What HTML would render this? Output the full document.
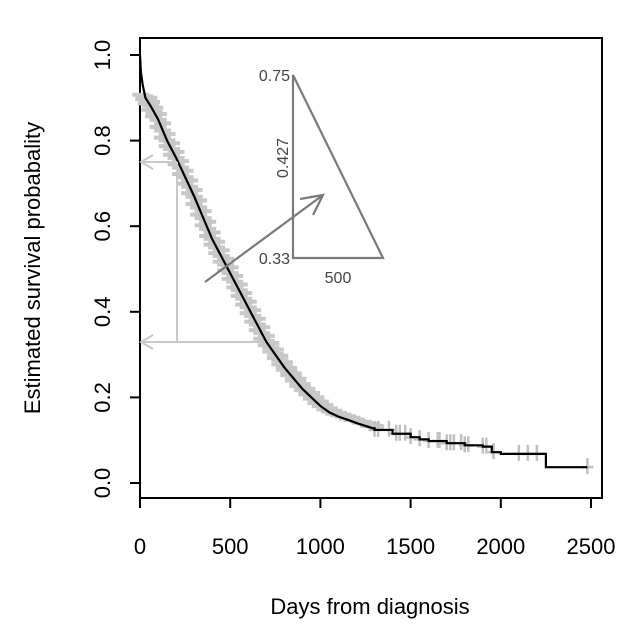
<!DOCTYPE html>
<html><head><meta charset="utf-8"><style>
body{margin:0;background:#fff;}
svg{display:block;font-family:"Liberation Sans",sans-serif;}
</style></head><body>
<svg id="chart" width="640" height="640">
<rect x="140" y="38" width="462" height="460" fill="none" stroke="#000" stroke-width="2"/>
<g id="xaxis"></g>
<g id="yaxis"></g>
<g id="marks"></g>
<path id="curve" fill="none" stroke="#000" stroke-width="2.2"/>
<g stroke="#c8c8c8" stroke-width="2" fill="none">
<line x1="177" y1="162" x2="177" y2="342"/>
<line x1="177" y1="162" x2="141" y2="162"/>
<line x1="265" y1="342" x2="141" y2="342"/>
<polyline points="153,155 141,162 153,169"/>
<polyline points="153,335 141,342 153,349"/>
</g>
<g stroke="#7a7a7a" stroke-width="2.2" fill="none">
<polygon points="293,75 293,258 383,258"/>
<line x1="205" y1="282" x2="323" y2="195"/>
<polyline points="300,199 323,195 313,215"/>
</g>
<g fill="#444" font-size="16">
<text x="290" y="81" text-anchor="end">0.75</text>
<text x="290" y="264" text-anchor="end">0.33</text>
<text x="338" y="283" text-anchor="middle">500</text>
<text transform="translate(288,158) rotate(-90)" text-anchor="middle">0.427</text>
</g>
<text x="370" y="614" text-anchor="middle" font-size="22" fill="#000">Days from diagnosis</text>
<text transform="translate(40,268) rotate(-90)" text-anchor="middle" font-size="22" fill="#000">Estimated survival probabality</text>
</svg>
<script>
const times=[0,5,15,30,60,100,150,200,250,300,350,400,450,500,550,600,650,700,750,800,850,900,950,1000,1050,1100,1150,1200,1290,1300,1400,1500,1550,1600,1700,1800,1900,1950,2000,2250,2480];
const surv=[1.0,0.96,0.93,0.9,0.88,0.85,0.8,0.76,0.715,0.67,0.62,0.57,0.53,0.49,0.45,0.41,0.37,0.33,0.3,0.27,0.245,0.22,0.2,0.18,0.165,0.155,0.148,0.14,0.128,0.124,0.115,0.107,0.102,0.098,0.093,0.088,0.085,0.072,0.068,0.037,0.037];
const censorTimes=[1300,1320,1380,1420,1440,1470,1500,1550,1600,1650,1660,1700,1720,1740,1780,1800,1820,1900,1920,1960,2100,2150,2200,2480];
const xTicks=[0,500,1000,1500,2000,2500];
const yTicks=[0.0,0.2,0.4,0.6,0.8,1.0];
const X=d=>140+d*0.1804, Y=s=>483-s*428;
const ns="http://www.w3.org/2000/svg";
function el(tag,attrs,parent){const e=document.createElementNS(ns,tag);for(const k in attrs)e.setAttribute(k,attrs[k]);parent.appendChild(e);return e;}
const xa=document.getElementById('xaxis'),ya=document.getElementById('yaxis'),mk=document.getElementById('marks');
xTicks.forEach(t=>{
 const l=el('line',{x1:X(t),x2:X(t),y1:498,y2:508,stroke:'#000','stroke-width':2},xa);
 
 
 const tx=el('text',{x:X(t),y:554,'text-anchor':'middle','font-size':22},xa);tx.textContent=t;
 
 
});
yTicks.forEach(t=>{
 const l=el('line',{x1:130,x2:140,y1:Y(t),y2:Y(t),stroke:'#000','stroke-width':2},ya);
 
 
 const tx=el('text',{transform:`translate(110,${Y(t)}) rotate(-90)`,'text-anchor':'middle','font-size':22},ya);tx.textContent=t.toFixed(1);
 
 
});
let d=`M${X(times[0])},${Y(surv[0])}`;
for(let i=1;i<times.length;i++){
 if(times[i]<=1290) d+=` L${X(times[i])},${Y(surv[i])}`;
 else d+=` H${X(times[i])} V${Y(surv[i])}`;
}
document.getElementById('curve').setAttribute('d',d);
function survAt(t){let s=surv[0];for(let i=0;i<times.length;i++){if(times[i]<=t)s=surv[i];}return s;}
for(let i=0;i<times.length-1;i++){
 if(times[i]<20||times[i]>=1300)continue;
 for(let k=0;k<6;k++){
  const f=k/6;
  const t=times[i]+(times[i+1]-times[i])*f;
  const s=surv[i]+(surv[i+1]-surv[i])*f;
  const off=(k%3)*3;
  const r=el('rect',{x:X(t)-13+off,y:Y(s)-5,width:17,height:4,fill:'#c8c8c8'},mk);
  
  
 }
}
censorTimes.forEach(t=>{
 const s=survAt(t);
 const g=el('path',{d:`M${X(t)},${Y(s)-9} V${Y(s)+7} M${X(t)-6},${Y(s)} H${X(t)+6}`,stroke:'#c0c0c0','stroke-width':2.5,fill:'none'},mk);
 
 
});
</script>
</body></html>
